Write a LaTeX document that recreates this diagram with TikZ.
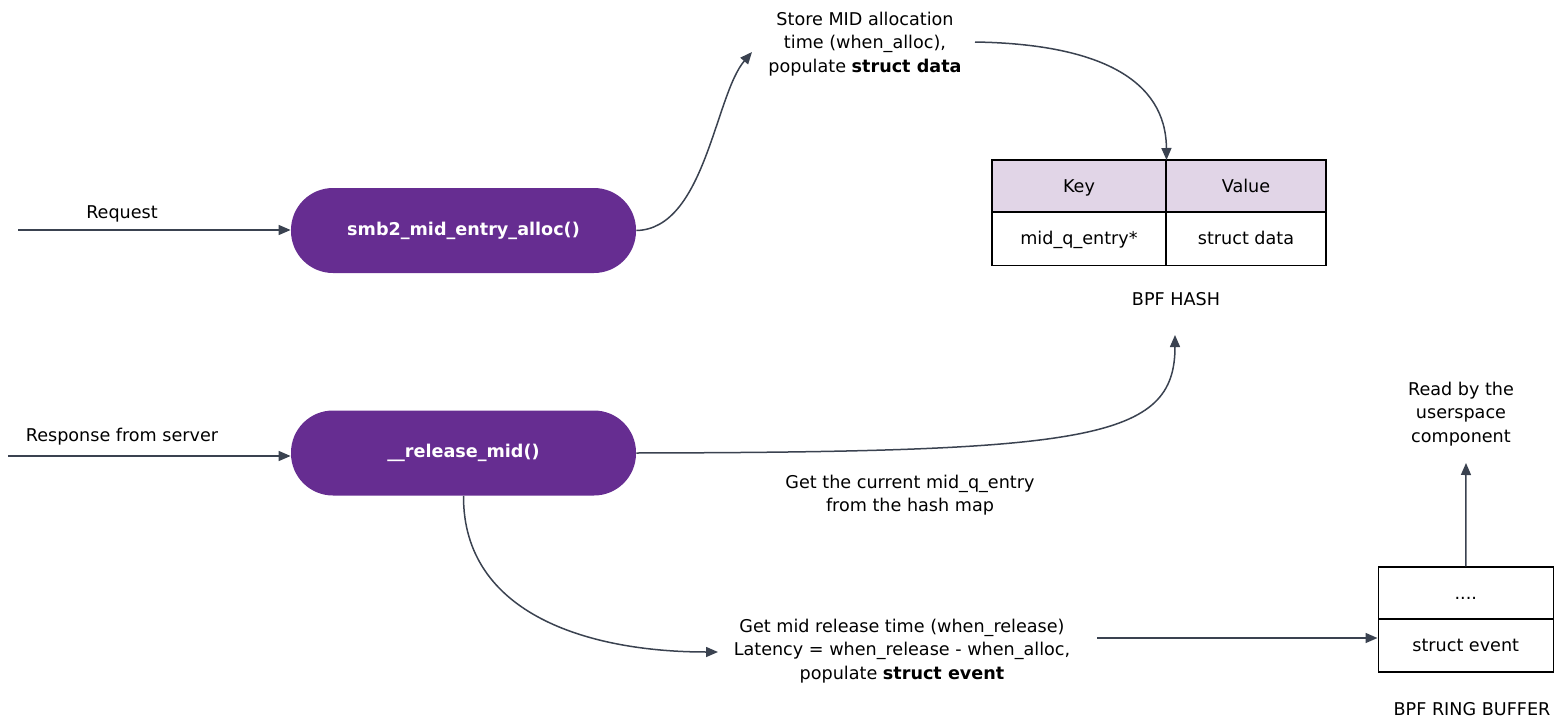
\documentclass[tikz,border=0pt]{standalone}
\usepackage{fontspec}
\setmainfont{DejaVu Sans}
\usetikzlibrary{arrows.meta}
\definecolor{pillpurple}{HTML}{662D91}
\definecolor{headlav}{HTML}{E1D5E7}
\definecolor{wire}{HTML}{3A4250}
\tikzset{
  pill/.style={fill=pillpurple, draw=none, rounded corners=21pt, minimum width=172.5pt,
    minimum height=42.5pt, text=white, font=\bfseries\fontsize{8.8}{11.75}\selectfont},
  lbl/.style={align=center, inner sep=0pt, font=\fontsize{8.8}{11.75}\selectfont},
  cell/.style={draw=black, line width=0.75pt, inner sep=0pt, text height=7.4pt, text depth=1.2pt,
    font=\fontsize{8.8}{11}\selectfont},
  flow/.style={draw=wire, line width=0.75pt, -{Triangle[length=6pt,width=5pt]}},
}
\begin{document}
\begin{tikzpicture}[x=0.5pt,y=-0.5pt]
\useasboundingbox (0,0) rectangle (1555,718);

% kernel hooks
\node[pill] (alloc) at (463.5,230.5) {smb2\_mid\_entry\_alloc()};
\node[pill] (release) at (463.5,453) {\_\_release\_mid()};

% incoming events
\coordinate (reqin) at (18,230);
\coordinate (respin) at (8,456);
\node[lbl] (reqlbl) at (122,214) {Request};
\node[lbl] (resplbl) at (122,437) {Response from server};
\draw[flow] (reqin) -- (reqin -| alloc.west);
\draw[flow] (respin) -- (respin -| release.west);

% BPF hash map
\node[cell, fill=headlav, minimum width=87pt, minimum height=26pt] (keyh) at (1079,186) {Key};
\node[cell, fill=headlav, minimum width=80pt, minimum height=26pt] (valh) at (1246,186) {Value};
\node[cell, minimum width=87pt, minimum height=26.5pt] (keyc) at (1079,238.75) {mid\_q\_entry*};
\node[cell, minimum width=80pt, minimum height=26.5pt] (valc) at (1246,238.75) {struct data};
\node[lbl] (hashlbl) at (1176,299) {BPF HASH};
\coordinate (hashtop) at (1166.5,160);
\coordinate (hashbot) at (1175,335);

% BPF ring buffer
\node[cell, minimum width=87.5pt, minimum height=26pt] (ringtop) at (1465.75,593) {....};
\node[cell, minimum width=87.5pt, minimum height=26.5pt] (ringev) at (1465.75,645.25) {struct event};
\node[lbl] (ringlbl) at (1472,709) {BPF RING BUFFER};

% step descriptions
\node[lbl] (store) at (865,44) {Store MID allocation\\time (when\_alloc),\\populate \textbf{struct data}};
\node[lbl] (lookup) at (910,495) {Get the current mid\_q\_entry\\from the hash map};
\node[lbl] (latency) at (902,651) {Get mid release time (when\_release)\\Latency = when\_release - when\_alloc,\\populate \textbf{struct event}};
\node[lbl] (user) at (1461,414) {Read by the\\userspace\\component};

\coordinate (storein) at (752,52);
\coordinate (storeout) at (975,42);
\coordinate (latin) at (718,652);
\coordinate (latout) at (1097,638);
\coordinate (userin) at (1466,463);

% connectors
\draw[flow] (alloc.east) .. controls (705,229) and (715,95) .. (storein);
\draw[flow] (storeout) .. controls (1100,44) and (1166,80) .. (hashtop);
\draw[flow] (release.east) .. controls (1090,452) and (1175,440) .. (hashbot);
\draw[flow] (release.south) .. controls (463,615) and (590,652) .. (latin);
\draw[flow] (latout) -- (latout -| ringev.west);
\draw[flow] (ringtop.north) -- (userin);
\end{tikzpicture}
\end{document}
